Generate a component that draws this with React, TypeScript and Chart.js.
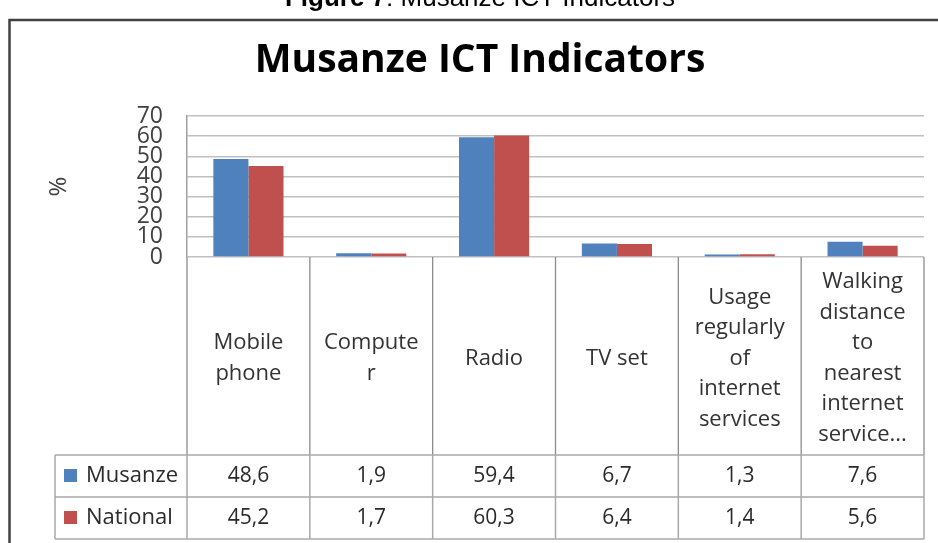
import React, { useEffect, useRef } from "react";
import { Chart, registerables } from "chart.js";

Chart.register(...registerables);

const categories: string[][] = [
  ["Mobile", "phone"],
  ["Compute", "r"],
  ["Radio"],
  ["TV set"],
  ["Usage", "regularly", "of", "internet", "services"],
  ["Walking", "distance", "to", "nearest", "internet", "service..."],
];
const seriesNames = ["Musanze", "National"];
const seriesColors = ["#4F81BD", "#C0504D"];
const musanze = [48.6, 1.9, 59.4, 6.7, 1.3, 7.6];
const national = [45.2, 1.7, 60.3, 6.4, 1.4, 5.6];
const yTicks = [0, 10, 20, 30, 40, 50, 60, 70];
const chartTitle = "Musanze ICT Indicators";
const yAxisTitle = "%";
const captionBold = "Figure 7";
const captionRest = ": Musanze ICT Indicators";

const FONT = "'Open Sans', sans-serif";

const fmt = (v: number) => v.toFixed(1).replace(".", ",");

const tablePlugin = {
  id: "dataTablePlugin",
  afterDraw(chart: any) {
    const { ctx, chartArea, scales } = chart;
    const xs = scales.x;
    const n = chart.data.labels.length;
    const centers: number[] = [];
    for (let i = 0; i < n; i++) centers.push(xs.getPixelForValue(i));
    const half = (centers[1] - centers[0]) / 2;
    const bounds = [centers[0] - half, ...centers.map((c) => c + half)];
    const rowH = 42;
    const tableBottom = chart.height - 4;
    const tableTop = tableBottom - rowH * 2;
    const tableLeft = 55;
    const right = bounds[bounds.length - 1];

    ctx.save();
    // category divider lines (axis area)
    ctx.strokeStyle = "#8c8c8c";
    ctx.lineWidth = 1.3;
    bounds.forEach((b) => {
      ctx.beginPath();
      ctx.moveTo(b, chartArea.bottom);
      ctx.lineTo(b, tableTop);
      ctx.stroke();
    });
    // table lines
    ctx.strokeStyle = "#a8a8a8";
    ctx.lineWidth = 1.5;
    bounds.forEach((b) => {
      ctx.beginPath();
      ctx.moveTo(b, tableTop);
      ctx.lineTo(b, tableBottom);
      ctx.stroke();
    });
    ctx.beginPath();
    ctx.moveTo(tableLeft, tableTop);
    ctx.lineTo(tableLeft, tableBottom);
    ctx.stroke();
    [tableTop, tableTop + rowH, tableBottom].forEach((y) => {
      ctx.beginPath();
      ctx.moveTo(tableLeft, y);
      ctx.lineTo(right, y);
      ctx.stroke();
    });

    // rows
    chart.data.datasets.forEach((ds: any, r: number) => {
      const cy = tableTop + rowH * r + rowH / 2;
      ctx.fillStyle = ds.backgroundColor;
      ctx.fillRect(64, cy - 7, 13, 13);
      ctx.fillStyle = "#2a2a2a";
      ctx.font = `22px ${FONT}`;
      ctx.textAlign = "left";
      ctx.textBaseline = "middle";
      ctx.fillText(ds.label, 86, cy);
      ctx.font = `21px ${FONT}`;
      ctx.textAlign = "center";
      ds.data.forEach((v: number, i: number) => {
        ctx.fillText(fmt(v), centers[i], cy);
      });
    });

    // outer frame
    ctx.strokeStyle = "#404040";
    ctx.lineWidth = 2.5;
    ctx.beginPath();
    ctx.moveTo(9.5, chart.height);
    ctx.lineTo(9.5, 20);
    ctx.lineTo(chart.width, 20);
    ctx.stroke();

    // caption (cut at top)
    ctx.fillStyle = "#000";
    ctx.textBaseline = "alphabetic";
    ctx.textAlign = "left";
    ctx.font = `bold 26px 'Liberation Sans', Arial, sans-serif`;
    const wb = ctx.measureText(captionBold).width;
    ctx.font = `26px 'Liberation Sans', Arial, sans-serif`;
    const wr = ctx.measureText(captionRest).width;
    const sx = 480 - (wb + wr) / 2;
    ctx.font = `bold 26px 'Liberation Sans', Arial, sans-serif`;
    ctx.fillText(captionBold, sx, 6);
    ctx.font = `26px 'Liberation Sans', Arial, sans-serif`;
    ctx.fillText(captionRest, sx + wb, 6);
    ctx.restore();
  },
};

export default function App() {
  const ref = useRef<HTMLCanvasElement | null>(null);
  useEffect(() => {
    if (!ref.current) return;
    const chart = new Chart(ref.current, {
      type: "bar",
      data: {
        labels: categories,
        datasets: [
          {
            label: seriesNames[0],
            data: musanze,
            backgroundColor: seriesColors[0],
            categoryPercentage: 0.571,
            barPercentage: 1,
          },
          {
            label: seriesNames[1],
            data: national,
            backgroundColor: seriesColors[1],
            categoryPercentage: 0.571,
            barPercentage: 1,
          },
        ],
      },
      options: {
        responsive: false,
        animation: false,
        events: [],
        layout: { padding: { left: 36, right: 14, top: 0, bottom: 0 } },
        plugins: {
          legend: { display: false },
          tooltip: { enabled: false },
          title: {
            display: true,
            text: chartTitle,
            color: "#000",
            font: { family: FONT, size: 39, weight: "bold" },
            padding: { top: 37.6, bottom: 31.6 },
          },
        },
        scales: {
          x: {
            grid: { display: false, drawTicks: false },
            border: { display: false },
            ticks: {
              color: "#333333",
              font: { family: FONT, size: 22, lineHeight: 30.5 / 22 },
              padding: 25,
              maxRotation: 0,
              minRotation: 0,
              autoSkip: false,
              crossAlign: "center",
            },
            afterFit: (s: any) => {
              s.height = 286;
            },
          },
          y: {
            min: 0,
            max: 70,
            grid: { color: "#c0c0c0", lineWidth: 1.5, drawTicks: false },
            border: { display: true, color: "#a0a0a0", width: 1.5 },
            ticks: {
              color: "#404040",
              font: { family: FONT, size: 23 },
              padding: 24,
              autoSkip: false,
            },
            afterBuildTicks: (s: any) => {
              s.ticks = yTicks.map((v) => ({ value: v }));
            },
            title: {
              display: true,
              text: yAxisTitle,
              color: "#404040",
              font: { family: FONT, size: 24 },
              padding: { top: 9, bottom: 0 },
            },
            afterFit: (s: any) => {
              s.width = 151;
            },
          },
        },
      },
      plugins: [tablePlugin],
    });
    return () => chart.destroy();
  }, []);
  return (
    <div style={{ position: "absolute", left: 0, top: 0, width: 938, height: 543 }}>
      <canvas ref={ref} width={938} height={543} style={{ display: "block" }} />
    </div>
  );
}
